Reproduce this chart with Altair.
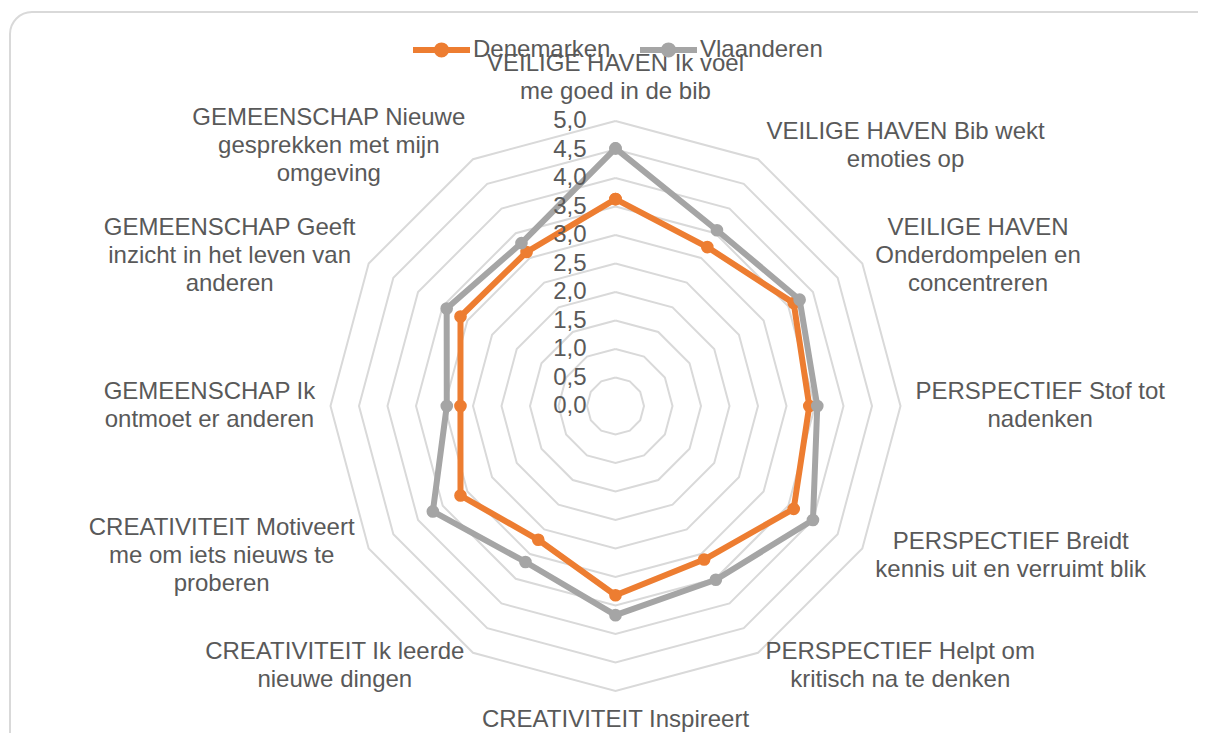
import altair as alt
import pandas as pd

# ---------------- data ----------------
categories = [
    "VEILIGE HAVEN Ik voel\nme goed in de bib",
    "VEILIGE HAVEN Bib wekt\nemoties op",
    "VEILIGE HAVEN\nOnderdompelen en\nconcentreren",
    "PERSPECTIEF Stof tot\nnadenken",
    "PERSPECTIEF Breidt\nkennis uit en verruimt blik",
    "PERSPECTIEF Helpt om\nkritisch na te denken",
    "CREATIVITEIT Inspireert",
    "CREATIVITEIT Ik leerde\nnieuwe dingen",
    "CREATIVITEIT Motiveert\nme om iets nieuws te\nproberen",
    "GEMEENSCHAP Ik\nontmoet er anderen",
    "GEMEENSCHAP Geeft\ninzicht in het leven van\nanderen",
    "GEMEENSCHAP Nieuwe\ngesprekken met mijn\nomgeving",
]
series_names = ["Denemarken", "Vlaanderen"]
series_colors = ["#ED7D31", "#A5A5A5"]
denemarken = [3.63, 3.22, 3.61, 3.40, 3.61, 3.11, 3.32, 2.71, 3.14, 2.72, 3.14, 3.12]
vlaanderen = [4.52, 3.56, 3.73, 3.54, 4.00, 3.52, 3.67, 3.16, 3.70, 2.96, 3.42, 3.30]
tick_values = [0.0, 0.5, 1.0, 1.5, 2.0, 2.5, 3.0, 3.5, 4.0, 4.5, 5.0]
tick_labels = ["0,0", "0,5", "1,0", "1,5", "2,0", "2,5", "3,0", "3,5", "4,0", "4,5", "5,0"]

# ---------------- layout / style ----------------
N = len(categories)
W, H = 1190, 725
K = 57.0            # pixels per value unit
CX, CY = 607.5, 398  # centre of the radar inside the plot area
R_LABEL = 300 / K
LH = 28
FS = 24
FONT = "Liberation Sans"
TXT = "#595959"
GRID = "#D9D9D9"
LW = 6

xs = alt.Scale(domain=[-CX / K, (W - CX) / K], nice=False, zero=False)
ys = alt.Scale(domain=[(CY - H) / K, CY / K], nice=False, zero=False)

# Arial / Liberation Sans advance widths (1/1000 em) for label layout
AW = {" ": 278, ",": 278, "A": 667, "B": 667, "C": 722, "D": 722, "E": 667, "F": 611,
      "G": 778, "H": 722, "I": 278, "J": 500, "K": 667, "L": 556, "M": 833, "N": 722,
      "O": 778, "P": 667, "Q": 778, "R": 722, "S": 667, "T": 611, "U": 722, "V": 667,
      "W": 944, "a": 556, "b": 556, "c": 500, "d": 556, "e": 556, "f": 278, "g": 556,
      "h": 556, "i": 222, "j": 222, "k": 500, "l": 222, "m": 833, "n": 556, "o": 556,
      "p": 556, "q": 556, "r": 333, "s": 500, "t": 278, "u": 556, "v": 500, "w": 722,
      "x": 500, "y": 500, "z": 500}


def text_width(s):
    return sum(AW.get(ch, 556) for ch in s) * FS / 1000.0


# ---------------- tables ----------------
series_rows = []
for name, vals in zip(series_names, [denemarken, vlaanderen]):
    for i in range(N + 1):
        series_rows.append({"series": name, "idx": i, "value": vals[i % N]})
series_df = pd.DataFrame(series_rows)

ring_df = pd.DataFrame([{"ring": v, "idx": i, "value": v}
                        for v in tick_values if v > 0 for i in range(N + 1)])
tick_df = pd.DataFrame({"value": tick_values, "label": tick_labels})

label_rows = []
for i, cat in enumerate(categories):
    lines = cat.split("\n")
    bw = max(text_width(l) for l in lines)
    for li, l in enumerate(lines):
        label_rows.append({"idx": i, "li": li, "n": len(lines), "bw": bw, "text": l})
label_df = pd.DataFrame(label_rows)

THETA = f"datum.idx * 2 * PI / {N}"


def polar(chart):
    return (chart.transform_calculate(theta=THETA)
            .transform_calculate(px="datum.value * sin(datum.theta)")
            .transform_calculate(py="datum.value * cos(datum.theta)"))


X = alt.X("px:Q", scale=xs, axis=None)
Y = alt.Y("py:Q", scale=ys, axis=None)

# ---------------- layers ----------------
card = alt.Chart(pd.DataFrame({"a": [0]})).mark_rect(
    cornerRadius=22, fill="white", fillOpacity=0, stroke=GRID, strokeWidth=2
).encode(x=alt.value(2), x2=alt.value(1230), y=alt.value(4), y2=alt.value(770))

grid = polar(alt.Chart(ring_df)).mark_line(color=GRID, strokeWidth=2).encode(
    x=X, y=Y, detail="ring:N", order="idx:Q")

legend_path = ("M-1,0L1,0M-0.16,0A0.16,0.16,0,1,1,0.16,0"
               "A0.16,0.16,0,1,1,-0.16,0Z")
legend = alt.Legend(
    title=None, orient="none", legendX=402, legendY=10, direction="horizontal",
    symbolType=legend_path, symbolSize=3249, symbolStrokeWidth=LW,
    labelFont=FONT, labelFontSize=FS, labelColor=TXT, labelOffset=0,
    columnPadding=17, padding=0, labelLimit=0)

stroke_scale = alt.Scale(domain=series_names, range=series_colors)
fill_scale = alt.Scale(domain=series_names, range=series_colors)

series_layers = []
for name in series_names:
    base = polar(alt.Chart(series_df).transform_filter(alt.datum.series == name))
    series_layers.append(base.mark_line(strokeWidth=LW, strokeJoin="round").encode(
        x=X, y=Y, order="idx:Q",
        stroke=alt.Stroke("series:N", scale=stroke_scale, legend=legend)))
    series_layers.append(base.mark_circle(size=160, opacity=1).encode(
        x=X, y=Y, fill=alt.Fill("series:N", scale=fill_scale, legend=None)))

ticks = (alt.Chart(tick_df)
         .transform_calculate(px="0", py="datum.value")
         .mark_text(align="right", baseline="middle", dx=-29, font=FONT,
                    fontSize=FS, color=TXT)
         .encode(x=X, y=Y, text="label:N"))

labels = (alt.Chart(label_df)
          .transform_calculate(theta=THETA)
          .transform_calculate(s="sin(datum.theta)", c="cos(datum.theta)")
          .transform_calculate(side="abs(datum.s) < 0.001 ? 0 : (datum.s > 0 ? 1 : -1)")
          .transform_calculate(px=f"{R_LABEL} * datum.s + datum.side * datum.bw / 2 / {K}")
          .transform_calculate(
              py=(f"{R_LABEL} * datum.c"
                  f" + (datum.side == 0 ? (datum.c > 0 ? 1 : -1) * datum.n * {LH} / 2 / {K} : 0)"
                  f" + ((datum.n - 1) / 2 - datum.li) * {LH} / {K}"))
          .mark_text(align="center", baseline="middle", font=FONT, fontSize=FS, color=TXT)
          .encode(x=X, y=Y, text="text:N"))

chart = alt.layer(card, grid, *series_layers, ticks, labels).properties(
    width=W, height=H, autosize=alt.AutoSizeParams(type="none"), padding=0,
    background="white"
).configure_view(stroke=None)

chart.save("out.html", embed_options={"renderer": "svg", "actions": False})
